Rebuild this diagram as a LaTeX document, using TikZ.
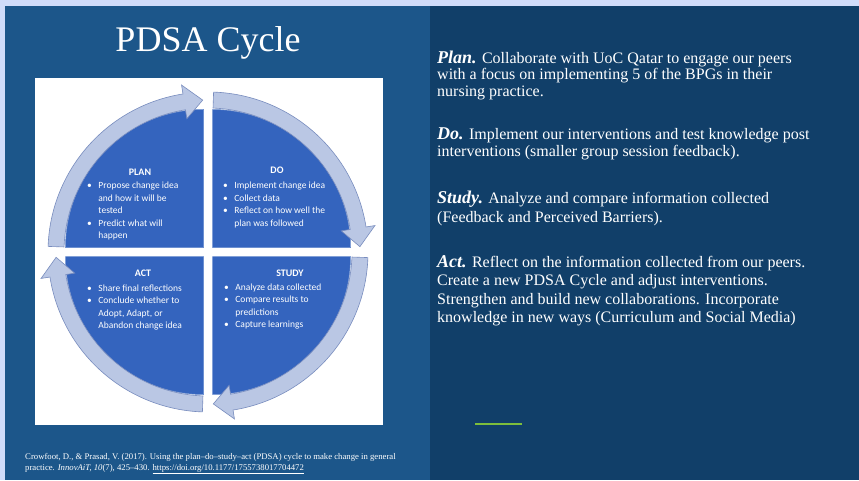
\documentclass[tikz,border=0pt]{standalone}
\usepackage{fontspec}
\setmainfont{Liberation Serif}
\newfontfamily\calibri{Carlito}
\usetikzlibrary{calc}

\definecolor{lavender}{RGB}{208,220,250}
\definecolor{leftblue}{RGB}{28,86,138}
\definecolor{rightblue}{RGB}{17,63,105}
\definecolor{sectorblue}{RGB}{52,100,190}
\definecolor{ringfill}{RGB}{186,199,228}
\definecolor{ringedge}{RGB}{120,140,190}
\definecolor{bargreen}{RGB}{125,190,60}

\newcommand{\lbl}[1]{{\fontsize{18}{16}\selectfont\bfseries\itshape #1}}

\tikzset{
  ring/.style={fill=ringfill, draw=ringedge, line width=0.6pt},
  sector/.style={fill=sectorblue, draw=sectorblue!75!white, line width=0.5pt},
  phase/.style={font=\calibri\bfseries\fontsize{10}{12}\selectfont, text=white, inner sep=0pt},
  bullets/.style={font=\calibri\fontsize{9.5}{12.4}\selectfont, text=white, inner sep=0pt, anchor=north west},
  body/.style={font=\fontsize{16}{16.3}\selectfont, text=white, align=left, inner sep=0pt, anchor=north west},
  bodywide/.style={body, font=\fontsize{16}{18.5}\selectfont},
}

\begin{document}
\begin{tikzpicture}[x=1pt, y=1pt]

\useasboundingbox (0,0) rectangle (859,480);

% Background panels
\fill[lavender] (0,0) rectangle (859,480);
\fill[leftblue] (5,0) rectangle (430,474);
\fill[rightblue] (430,0) rectangle (859,474);

% White picture box
\fill[white] (35,55) rectangle (383,402);

% Define dimensions
\def\Ro{160}   % outer radius of ring
\def\Ri{144}   % inner radius of ring
\def\Rm{152}   % middle of ring
\def\Rs{138}   % radius of sectors
\def\g{4.5}    % half gap between sectors

% Centre of the cycle
\coordinate (C) at (208,228);

% Four sectors
\draw[sector] ($(C)+(-\g,\g)$) -- ++(0,\Rs) arc[start angle=90, end angle=180, radius=\Rs] -- cycle;
\draw[sector] ($(C)+(\g,\g)$) -- ++(\Rs,0) arc[start angle=0, end angle=90, radius=\Rs] -- cycle;
\draw[sector] ($(C)+(\g,-\g)$) -- ++(0,-\Rs) arc[start angle=-90, end angle=0, radius=\Rs] -- cycle;
\draw[sector] ($(C)+(-\g,-\g)$) -- ++(-\Rs,0) arc[start angle=180, end angle=270, radius=\Rs] -- cycle;

% Ring arrows (start angle, tip angle), clockwise
\def\ringarrow#1#2{%
  \draw[ring] ($(C)+(#1:\Ro)$) arc[start angle=#1, end angle=#2+7, radius=\Ro]
    -- ($(C)+(#2+7:\Ro+9)$) -- ($(C)+(#2:\Rm)$) -- ($(C)+(#2+7:\Ri-9)$)
    -- ($(C)+(#2+7:\Ri)$) arc[start angle=#2+7, end angle=#1, radius=\Ri] -- cycle;}
\ringarrow{178}{92}
\ringarrow{88}{2}
\ringarrow{-2}{-88}
\ringarrow{-92}{-178}

% Sector headings
\node[phase] (planHd) at (140,308) {PLAN};
\node[phase] (doHd) at (277,310) {DO};
\node[phase] (actHd) at (143,207) {ACT};
\node[phase] (studyHd) at (290,207) {STUDY};

% Sector bullets
\node[bullets] (planList) at (87,300) {\begin{tabular}{@{}l@{\hspace{6.5pt}}l@{}}
  \textbullet & Propose change idea\\ & and how it will be\\ & tested\\
  \textbullet & Predict what will\\ & happen\end{tabular}};
\node[bullets] (doList) at (223,300) {\begin{tabular}{@{}l@{\hspace{6.5pt}}l@{}}
  \textbullet & Implement change idea\\ \textbullet & Collect data\\
  \textbullet & Reflect on how well the\\ & plan was followed\end{tabular}};
\node[bullets] (actList) at (87,197.5) {\begin{tabular}{@{}l@{\hspace{6.5pt}}l@{}}
  \textbullet & Share final reflections\\ \textbullet & Conclude whether to\\
  & Adopt, Adapt, or\\ & Abandon change idea\end{tabular}};
\node[bullets] (studyList) at (224,198.5) {\begin{tabular}{@{}l@{\hspace{6.5pt}}l@{}}
  \textbullet & Analyze data collected\\ \textbullet & Compare results to\\
  & predictions\\ \textbullet & Capture learnings\end{tabular}};

% Title
\node[font=\fontsize{36}{40}\selectfont, text=white, anchor=base] (title) at (208,428) {PDSA Cycle};

% Right hand text
\node[body] (planTxt) at (437,429) {\lbl{Plan.} Collaborate with UoC Qatar to engage our peers\\
  with a focus on implementing 5 of the BPGs in their\\nursing practice.};
\node[body] (doTxt) at (437,352) {\lbl{Do.} Implement our interventions and test knowledge post\\
  interventions (smaller group session feedback).};
\node[bodywide] (studyTxt) at (437,289) {\lbl{Study.} Analyze and compare information collected\\
  (Feedback and Perceived Barriers).};
\node[bodywide] (actTxt) at (437,225) {\lbl{Act.} Reflect on the information collected from our peers.\\
  Create a new PDSA Cycle and adjust interventions.\\
  Strengthen and build new collaborations. Incorporate\\
  knowledge in new ways (Curriculum and Social Media)};

% Green bar
\draw[bargreen, line width=2.5pt] (475,56) -- (522,56);

% Reference
\node[font=\fontsize{8.7}{11}\selectfont, text=white, align=left, inner sep=0pt, anchor=north west] (cite) at (25,27)
  {Crowfoot, D., \& Prasad, V. (2017). Using the plan--do--study--act (PDSA) cycle to make change in general\\
  practice. \textit{InnovAiT, 10}(7), 425--430. \underline{https://doi.org/10.1177/1755738017704472}};

\end{tikzpicture}
\end{document}
